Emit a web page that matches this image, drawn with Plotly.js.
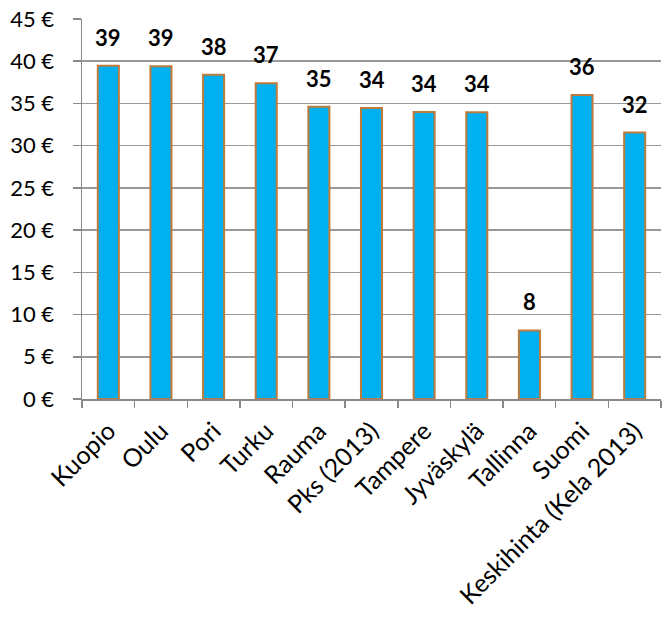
<!DOCTYPE html>
<html>
<head>
<meta charset="utf-8">
<script src="https://cdn.plot.ly/plotly-3.0.1.min.js"></script>
<style>html,body{margin:0;padding:0;background:#fff;}#chart{width:669px;height:619px;}</style>
</head>
<body>
<div id="chart"></div>
<script>
var categories = ["Kuopio","Oulu","Pori","Turku","Rauma","Pks (2013)","Tampere","Jyväskylä","Tallinna","Suomi","Keskihinta (Kela 2013)"];
var prices = [39.45, 39.4, 38.4, 37.4, 34.6, 34.45, 34.0, 33.97, 8.12, 36.0, 31.55];
var yTickValues = [0,5,10,15,20,25,30,35,40,45];
var yTickLabels = ["0 €","5 €","10 €","15 €","20 €","25 €","30 €","35 €","40 €","45 €"];

var font = "Lato, 'Open Sans', sans-serif";

var trace = {
  type: "bar",
  x: categories,
  y: prices,
  marker: {color: "#00B0F0", line: {color: "#BE7B3C", width: 2}},
  hoverinfo: "none"
};

var annotations = categories.map(function(c, i){
  return {
    x: c, y: prices[i], xref: "x", yref: "y",
    text: "<b>" + Math.round(prices[i]) + "</b>",
    showarrow: false, yanchor: "bottom", yshift: 13,
    font: {family: font, size: 22, color: "#000"}
  };
});

var layout = {
  width: 669, height: 619,
  margin: {l: 82, r: 8, t: 19, b: 220},
  paper_bgcolor: "#fff", plot_bgcolor: "#fff",
  showlegend: false,
  bargap: 0.6,
  font: {family: font, size: 22, color: "#000"},
  xaxis: {
    type: "category",
    tickangle: -45,
    tickson: "boundaries",
    ticks: "outside", ticklen: 7, tickwidth: 1.5, tickcolor: "#888",
    showline: true, linecolor: "#888", linewidth: 1.5,
    showgrid: false,
    ticklabelstandoff: 6,
    tickfont: {family: font, size: 25, color: "#000"}
  },
  yaxis: {
    range: [0, 45],
    tickvals: yTickValues, ticktext: yTickLabels,
    ticks: "outside", ticklen: 8, tickwidth: 1.5, tickcolor: "#888",
    showline: true, linecolor: "#888", linewidth: 1.5,
    showgrid: true, gridcolor: "#999", gridwidth: 1.5,
    zeroline: false,
    ticklabelstandoff: 14,
    tickfont: {family: font, size: 22, color: "#000"}
  },
  annotations: annotations
};

Plotly.newPlot("chart", [trace], layout, {displayModeBar: false, staticPlot: true});
</script>
</body>
</html>
